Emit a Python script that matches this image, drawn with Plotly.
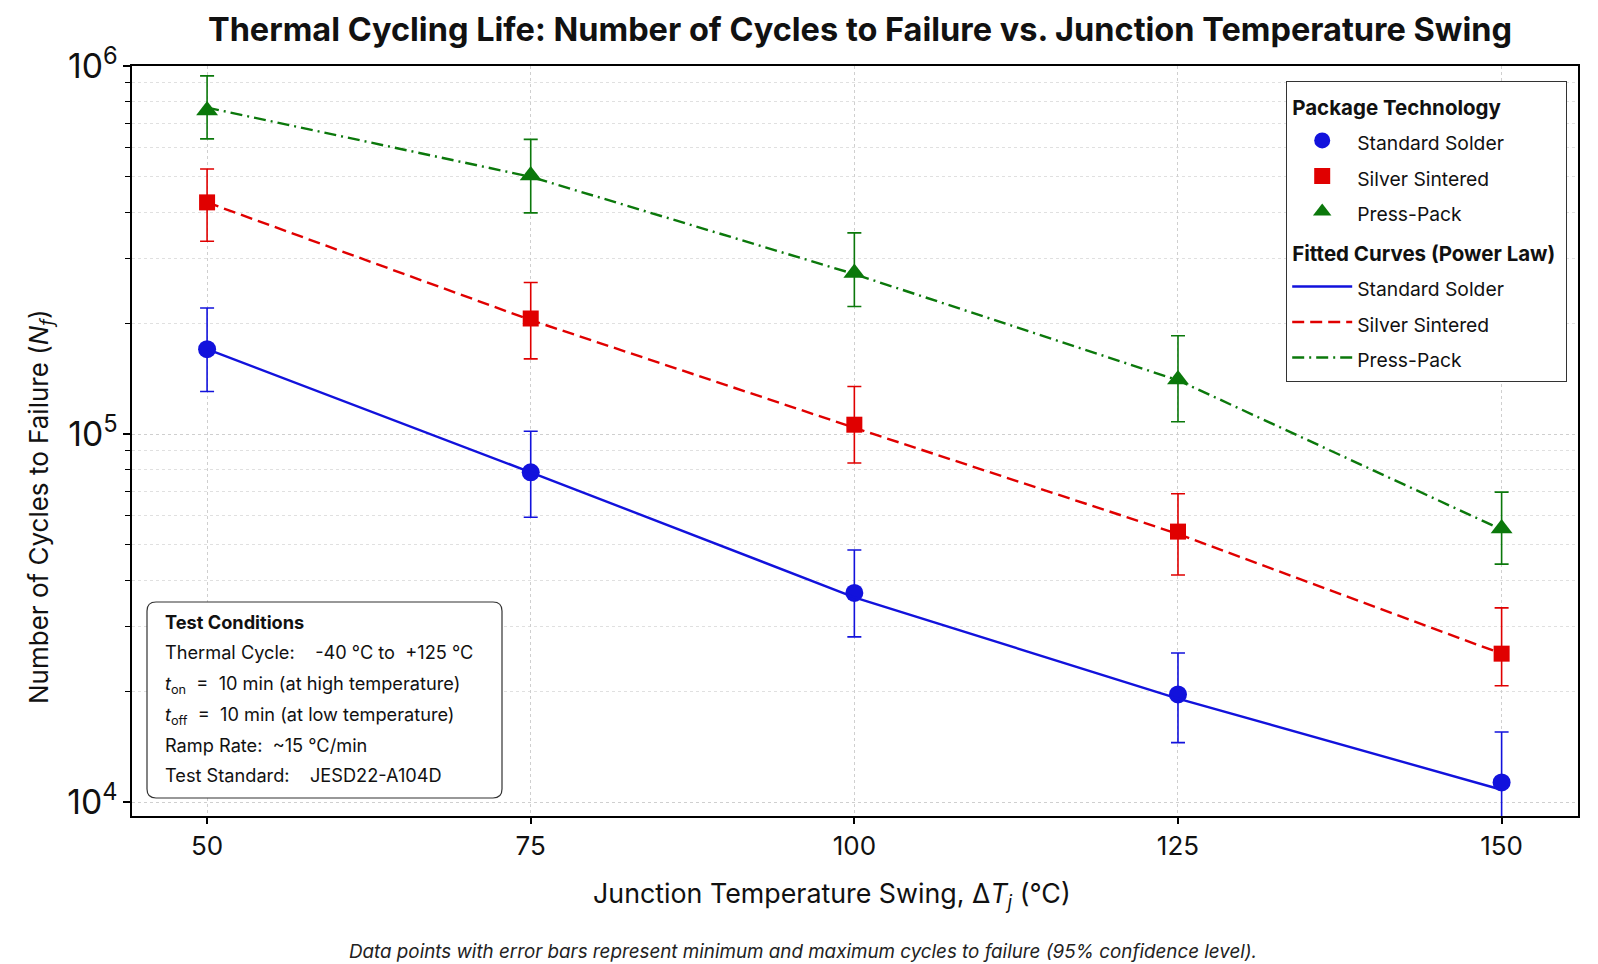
import plotly.graph_objects as go

# ---------------- data ----------------
delta_tj = [50, 75, 100, 125, 150]

solder_mean = [170000, 78700, 37000, 19600, 11300]
solder_min = [130500, 59400, 28100, 14500, 7500]
solder_max = [220000, 101700, 48400, 25400, 15500]

sinter_mean = [426000, 206000, 106000, 54300, 25300]
sinter_min = [334000, 160000, 83400, 41400, 20700]
sinter_max = [525000, 258000, 134600, 68800, 33700]

press_mean = [757000, 504000, 274000, 140700, 55400]
press_min = [634000, 399000, 222000, 108000, 44300]
press_max = [940000, 632000, 352000, 185000, 69500]

solder_fit = [170000, 78700, 36000, 19100, 10800]
sinter_fit = [426000, 204000, 104000, 53500, 25300]
press_fit = [771000, 500000, 272000, 140000, 55000]

series_names = ["Standard Solder", "Silver Sintered", "Press-Pack"]
x_ticks = [50, 75, 100, 125, 150]

test_lines = [
    "<b>Test Conditions</b>",
    "Thermal Cycle:\u00a0\u00a0\u00a0 -40 °C to\u00a0 +125 °C",
    "<i>t</i><sub>on</sub>\u00a0 =\u00a0 10 min (at high temperature)",
    "<i>t</i><sub>off</sub>\u00a0 =\u00a0 10 min (at low temperature)",
    "Ramp Rate:\u00a0 ~15 °C/min",
    "Test Standard:\u00a0\u00a0\u00a0 JESD22-A104D",
]

# ---------------- styling ----------------
FONT = "Inter, Liberation Sans, Arial, sans-serif"
BLUE = "#1212dc"
RED = "#e00000"
GREEN = "#0b780b"

fig = go.Figure()

means = [solder_mean, sinter_mean, press_mean]
mins = [solder_min, sinter_min, press_min]
maxs = [solder_max, sinter_max, press_max]
fits = [solder_fit, sinter_fit, press_fit]
colors = [BLUE, RED, GREEN]
symbols = ["circle", "square", "triangle-up"]
msizes = [18, 16, 19]
dashes = ["solid", "12px,6px", "12px,5px,2px,5px"]

LEG_SPAN = "<span style='font-size:19.3px'>{}</span>"
GT_SPAN = "<span style='font-size:20.5px'><b>{}</b></span>"

for i in range(3):
    m = means[i]
    up = [maxs[i][k] - m[k] for k in range(len(m))]
    dn = [m[k] - mins[i][k] for k in range(len(m))]
    fig.add_trace(go.Scatter(
        x=delta_tj, y=m, mode="markers",
        name=LEG_SPAN.format(series_names[i]),
        marker=dict(color=colors[i], symbol=symbols[i], size=msizes[i], line=dict(width=0)),
        error_y=dict(type="data", array=up, arrayminus=dn, color=colors[i],
                     thickness=1.6, width=7, symmetric=False),
        legendgroup="data",
        legendgrouptitle=dict(text=GT_SPAN.format("Package Technology"),
                              font=dict(family=FONT, size=25, color="#111111")),
        showlegend=True,
    ))

for i in range(3):
    fig.add_trace(go.Scatter(
        x=delta_tj, y=fits[i], mode="lines",
        name=LEG_SPAN.format(series_names[i]),
        line=dict(color=colors[i], width=2.4, dash=dashes[i]),
        legendgroup="fit",
        legendgrouptitle=dict(text=GT_SPAN.format("Fitted Curves (Power Law)"),
                              font=dict(family=FONT, size=25, color="#111111")),
    ))

# plot area in pixels: x 132..1578, y 66..816
L, R, T, B = 132, 20, 66, 148
W, H = 1598, 964
PW = W - L - R
PH = H - T - B


def px_x(x):
    return (x - L) / PW


def px_y(y):
    return (H - B - y) / PH


# rounded box for test conditions
x0, x1 = px_x(147), px_x(502)
y0, y1 = px_y(798), px_y(602)
rx, ry = 9 / PW, 9 / PH
path = (f"M {x0+rx},{y1} L {x1-rx},{y1} Q {x1},{y1} {x1},{y1-ry} "
        f"L {x1},{y0+ry} Q {x1},{y0} {x1-rx},{y0} L {x0+rx},{y0} "
        f"Q {x0},{y0} {x0},{y0+ry} L {x0},{y1-ry} Q {x0},{y1} {x0+rx},{y1} Z")
fig.add_shape(type="path", path=path, xref="paper", yref="paper",
              line=dict(color="#333333", width=1.2), fillcolor="white",
              layer="above")

line_y = [622, 652, 684, 715, 745, 775]
for txt, yy in zip(test_lines, line_y):
    fig.add_annotation(text=txt, xref="paper", yref="paper", x=px_x(163), y=px_y(yy),
                       xanchor="left", yanchor="middle", showarrow=False,
                       font=dict(family=FONT, size=18.2, color="#111111"))

# axis titles
fig.add_annotation(text="Junction Temperature Swing, Δ<i>T<sub>j</sub></i> (°C)",
                   xref="paper", yref="paper", x=px_x(832), y=px_y(895),
                   xanchor="center", yanchor="middle", showarrow=False,
                   font=dict(family=FONT, size=26.8, color="#111111"))
fig.add_annotation(text="Number of Cycles to Failure (<i>N<sub>f</sub></i>)",
                   xref="paper", yref="paper", x=px_x(40), y=px_y(507),
                   xanchor="center", yanchor="middle", showarrow=False, textangle=-90,
                   font=dict(family=FONT, size=26, color="#111111"))
fig.add_annotation(text="<i>Data points with error bars represent minimum and maximum cycles to failure (95% confidence level).</i>",
                   xref="paper", yref="paper", x=px_x(803), y=px_y(951),
                   xanchor="center", yanchor="middle", showarrow=False,
                   font=dict(family=FONT, size=18.8, color="#222222"))

fig.update_layout(
    width=W, height=H,
    margin=dict(l=L, r=R, t=T, b=B),
    paper_bgcolor="white", plot_bgcolor="white",
    font=dict(family=FONT, color="#111111"),
    title=dict(text="<b>Thermal Cycling Life: Number of Cycles to Failure vs. Junction Temperature Swing</b>",
               x=860 / W, xanchor="center", xref="container",
               y=1 - 30 / H, yanchor="middle",
               font=dict(family=FONT, size=32.5, color="#111111")),
    legend=dict(x=px_x(1286), y=px_y(81), xanchor="left", yanchor="top",
                bgcolor="white", bordercolor="#333333", borderwidth=1.2,
                font=dict(family=FONT, size=25, color="#111111"),
                tracegroupgap=4, itemwidth=60,
                groupclick="toggleitem"),
    showlegend=True,
)

fig.update_xaxes(
    range=[44.2, 155.9], tickvals=x_ticks, ticktext=[str(v) for v in x_ticks],
    ticks="outside", ticklen=6, tickwidth=1.5, tickcolor="black",
    tickfont=dict(family=FONT, size=26, color="#111111"),
    showline=True, linecolor="black", linewidth=2, mirror=True,
    showgrid=True, gridcolor="#cfcfcf", gridwidth=1, griddash="dot",
    zeroline=False,
)
fig.update_yaxes(
    type="log", range=[3.962, 6.0], dtick=1, exponentformat="power",
    ticks="outside", ticklen=7, tickwidth=1.5, tickcolor="black",
    tickfont=dict(family=FONT, size=27, color="#111111"),
    showline=True, linecolor="black", linewidth=2, mirror=True,
    showgrid=True, gridcolor="#cfcfcf", gridwidth=1, griddash="dot",
    minor=dict(dtick="D1", ticks="outside", ticklen=5, tickwidth=1.3, tickcolor="black",
               showgrid=True, gridcolor="#e0e0e0", gridwidth=1, griddash="dot"),
    zeroline=False,
)

fig.write_html("out.html")
